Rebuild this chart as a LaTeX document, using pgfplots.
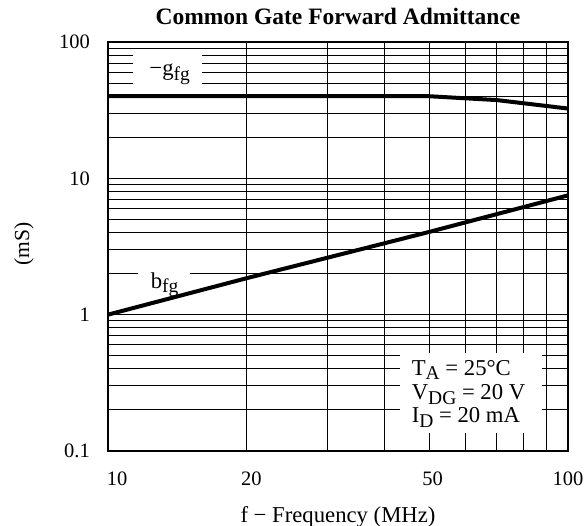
\documentclass[border=0pt]{standalone}
\usepackage{pgfplots}
\pgfplotsset{compat=1.18}
\usepackage{fontspec}
\setmainfont{Liberation Serif}
\newcommand\lbl{\fontsize{20.5}{24}\selectfont}
\newcommand\lblbig{\fontsize{22.7}{27}\selectfont}
\newcommand\sub[1]{\raisebox{-4.5pt}{\fontsize{19.5}{19.5}\selectfont #1}}

\begin{document}
\begin{tikzpicture}
\begin{axis}[
  at={(0pt,0pt)}, anchor=south west,
  xmode=log, ymode=log,
  width=460pt, height=409pt, scale only axis,
  xmin=10, xmax=100, ymin=0.1, ymax=100,
  xtick={10,20,50,100},
  xticklabels={\hspace*{18pt}10,\hspace*{10pt}20,\hspace*{6pt}50,100},
  ytick={0.1,1,10,100},
  yticklabels={0.1,1,10,100},
  minor xtick={30,40,60,70,80,90},
  minor ytick={0.2,0.3,0.4,0.5,0.6,0.7,0.8,0.9,2,3,4,5,6,7,8,9,20,30,40,50,60,70,80,90},
  grid=both,
  major grid style={black, line width=1pt},
  minor grid style={black, line width=1pt},
  major tick length=0pt, minor tick length=0pt,
  axis line style={line width=1.4pt},
  xticklabel style={font=\lbl, anchor=base, inner sep=0pt, yshift=-35pt},
  yticklabel style={font=\lbl, anchor=east, inner sep=0pt, xshift=-18pt},
  title={Common Gate Forward Admittance},
  title style={at={(axis description cs:0.5,1.0293)}, anchor=base, inner sep=0pt,
    font=\fontsize{23.5}{28}\selectfont\bfseries},
  xlabel={f − Frequency (MHz)},
  xlabel style={at={(axis description cs:0.5,-0.1736)}, anchor=base, inner sep=0pt, font=\lblbig},
  ylabel={(mS)},
  ylabel style={at={(axis description cs:-0.1826,0.506)}, anchor=center, inner sep=0pt,
    font=\fontsize{21.5}{25}\selectfont},
]
% white panels behind the curve names and the test conditions
\fill[white] (rel axis cs:0.0543,0.892) rectangle (rel axis cs:0.2043,0.978);
\fill[white] (rel axis cs:0.065,0.381) rectangle (rel axis cs:0.178,0.462);
\fill[white] (rel axis cs:0.635,0.044) rectangle (rel axis cs:0.9435,0.2396);

% -g_fg
\addplot[black, line width=4pt, line join=round] coordinates {(10,40) (50,40) (70,37.5) (100,32.5)};
% b_fg
\addplot[black, line width=4pt, line join=round] coordinates {(10,1) (20,1.85) (50,4.05) (100,7.5)};

\node[anchor=base, font=\lblbig, inner sep=0pt] at (rel axis cs:0.134,0.917) {−g\sub{fg}};
\node[anchor=base, font=\lblbig, inner sep=0pt] at (rel axis cs:0.123,0.3985) {b\sub{fg}};

\node[anchor=base west, font=\lblbig, inner sep=0pt] at (rel axis cs:0.660,0.1858) {T\sub{A} = 25°C};
\node[anchor=base west, font=\lblbig, inner sep=0pt] at (rel axis cs:0.660,0.1247) {V\sub{DG} = 20 V};
\node[anchor=base west, font=\lblbig, inner sep=0pt] at (rel axis cs:0.660,0.0685) {I\sub{D} = 20 mA};
\end{axis}
\pgfresetboundingbox
\path[use as bounding box] (-108pt,-75pt) rectangle (478pt,451pt);
\end{tikzpicture}
\end{document}
